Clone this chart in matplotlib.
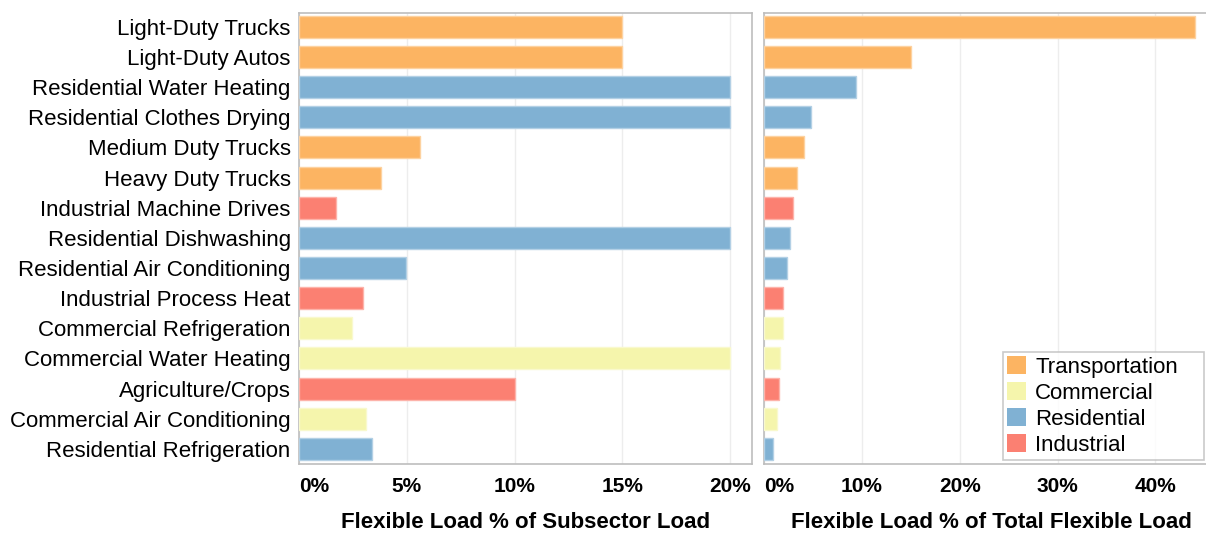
import matplotlib
matplotlib.use("Agg")
import matplotlib.pyplot as plt
from matplotlib.patches import Patch

plt.rcParams['font.family'] = ['Liberation Sans', 'DejaVu Sans']

categories = ['Light-Duty Trucks', 'Light-Duty Autos', 'Residential Water Heating',
              'Residential Clothes Drying', 'Medium Duty Trucks', 'Heavy Duty Trucks',
              'Industrial Machine Drives', 'Residential Dishwashing',
              'Residential Air Conditioning', 'Industrial Process Heat',
              'Commercial Refrigeration', 'Commercial Water Heating', 'Agriculture/Crops',
              'Commercial Air Conditioning', 'Residential Refrigeration']
sectors = ['Transportation', 'Transportation', 'Residential', 'Residential',
           'Transportation', 'Transportation', 'Industrial', 'Residential',
           'Residential', 'Industrial', 'Commercial', 'Commercial', 'Industrial',
           'Commercial', 'Residential']
subsector_pct = [15, 15, 20, 20, 5.6, 3.8, 1.7, 20, 4.95, 2.95, 2.45, 20, 10, 3.1, 3.4]
total_pct = [44.1, 15.05, 9.4, 4.8, 4.05, 3.4, 2.95, 2.7, 2.3, 1.9, 1.9, 1.6, 1.5, 1.35, 0.95]

sector_names = ['Transportation', 'Commercial', 'Residential', 'Industrial']
sector_colors = {'Transportation': '#FCB462', 'Commercial': '#F5F5AC',
                 'Residential': '#80B1D3', 'Industrial': '#FB8072'}
edge_colors = {'Transportation': '#FDD2A0', 'Commercial': '#F9F9CD',
               'Residential': '#B3D0E5', 'Industrial': '#FDB3AA'}

colors = [sector_colors[s] for s in sectors]
edges = [edge_colors[s] for s in sectors]
ypos = list(range(len(categories)))

fig = plt.figure(figsize=(12.06, 5.33), dpi=100)
ax1 = fig.add_axes([299 / 1206, 69 / 533, 452.7 / 1206, 451.3 / 533])
ax2 = fig.add_axes([764 / 1206, 69 / 533, 454 / 1206, 451.3 / 533])

spine_col = '#BDBDBD'
grid_col = '#EDEDED'

for ax, vals, xmax, ticks, label in [
        (ax1, subsector_pct, 21.0, [0, 5, 10, 15, 20], 'Flexible Load % of Subsector Load'),
        (ax2, total_pct, 46.4, [0, 10, 20, 30, 40], 'Flexible Load % of Total Flexible Load')]:
    ax.barh(ypos, vals, height=0.73, color=colors, edgecolor=edges, linewidth=1, zorder=3)
    ax.set_ylim(len(categories) - 0.5, -0.47)
    ax.set_xlim(0, xmax)
    ax.set_xticks(ticks)
    ax.set_xticklabels([f'{t}%' for t in ticks], fontsize=15, fontweight='bold')
    ax.get_xticklabels()[0].set_horizontalalignment('left')
    ax.tick_params(axis='x', length=0, pad=9)
    ax.tick_params(axis='y', length=0, pad=6)
    ax.set_xlabel(label, fontsize=16, fontweight='bold', labelpad=12)
    ax.grid(axis='x', color=grid_col, linewidth=1, zorder=0)
    for sp in ax.spines.values():
        sp.set_color(spine_col)
        sp.set_linewidth(1.2)

ax1.set_yticks(ypos)
ax1.set_yticklabels(categories, fontsize=16)
ax2.set_yticks([])

# legend box placed in figure pixels like the original
handles = [Patch(facecolor=sector_colors[s], edgecolor='none', label=s) for s in sector_names]
leg = fig.legend(handles=handles, loc='upper left',
                 bbox_to_anchor=(1003 / 1206, 1 - 352 / 533 - 0.01, 201 / 1206, 0.01),
                 mode='expand', fontsize=16, frameon=True, fancybox=False, borderaxespad=0,
                 handlelength=0.85, handleheight=0.85, handletextpad=0.4,
                 labelspacing=0.2, borderpad=0.2)
leg.get_frame().set_edgecolor(spine_col)
leg.get_frame().set_linewidth(1.2)

fig.savefig('out.png', dpi=100)
